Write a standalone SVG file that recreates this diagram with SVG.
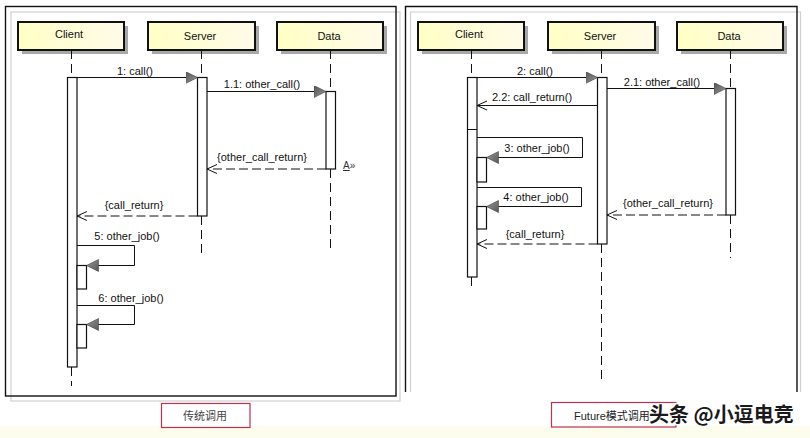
<svg xmlns="http://www.w3.org/2000/svg" width="810" height="438" viewBox="0 0 810 438">
<style>
  text { font-family: "Liberation Sans", Arial, sans-serif; font-size: 11px; fill: #111; }
  .cjk { font-family: "Liberation Sans", "Noto Sans CJK SC", sans-serif; }
  .frame { fill: none; stroke: #111; stroke-width: 1.4; }
  .frameShadow { fill: none; stroke: #d0d0d0; stroke-width: 1.2; }
  .head { fill: url(#headGrad); stroke: #111; stroke-width: 2; }
  .headShadow { fill: #a8a8a8; }
  .life { stroke: #111; stroke-width: 1; stroke-dasharray: 9 5; fill: none; }
  .act { fill: #fff; stroke: #111; stroke-width: 1.2; }
  .msg { fill: none; stroke: #111; stroke-width: 1; }
  .call { marker-end: url(#filled); }
  .ret { stroke-dasharray: 9 4; marker-end: url(#open); }
  .sret { marker-end: url(#open); }
  .lbl { fill: none; stroke: #c03050; stroke-width: 1.2; }
</style>
<defs>
  <linearGradient id="headGrad" x1="0" y1="0" x2="1" y2="0">
    <stop offset="0" stop-color="#ffffc4"/>
    <stop offset="1" stop-color="#fffbea"/>
  </linearGradient>
  <linearGradient id="arrowGrad" x1="0" y1="0" x2="1" y2="1">
    <stop offset="0" stop-color="#555"/>
    <stop offset="1" stop-color="#9a9a9a"/>
  </linearGradient>
  <marker id="filled" markerWidth="13" markerHeight="13" refX="12" refY="6" orient="auto" markerUnits="userSpaceOnUse">
    <path d="M0,0 L12,6 L0,12 z" fill="url(#arrowGrad)" stroke="#444" stroke-width="0.6"/>
  </marker>
  <marker id="open" markerWidth="12" markerHeight="12" refX="10" refY="5.5" orient="auto" markerUnits="userSpaceOnUse">
    <path d="M0,1 L10,5.5 L0,10" fill="none" stroke="#111" stroke-width="1"/>
  </marker>
</defs>

<rect x="0" y="0" width="810" height="438" fill="#fff"/>
<rect x="0" y="426" width="810" height="12" fill="#fdfdee"/>

<!-- frames -->
<g id="frames">
  <rect class="frameShadow" x="11" y="12" width="389" height="389"/>
  <rect class="frame" x="5.5" y="6.5" width="390.5" height="389.5"/>
  <path class="frameShadow" d="M410.5,392 V12 H800.5 V392"/>
  <path class="frame" d="M405.5,392 V6.5 H797 V392"/>
</g>

<!-- left diagram nodes -->
<g id="L-client">
  <rect class="headShadow" x="22" y="26" width="106" height="28"/>
  <rect class="head" x="18" y="22" width="106" height="28"/>
  <text x="69" y="38" text-anchor="middle">Client</text>
  <line class="life" x1="71.5" y1="50" x2="71.5" y2="77"/>
  <line class="life" x1="71.5" y1="367" x2="71.5" y2="386"/>
  <rect class="act" x="67.5" y="77.5" width="9.5" height="289.5"/>
  <rect class="act" x="77" y="265.5" width="9.5" height="23.5"/>
  <rect class="act" x="77" y="324.5" width="9.5" height="23.5"/>
</g>
<g id="L-server">
  <rect class="headShadow" x="152" y="26" width="107" height="28"/>
  <rect class="head" x="148" y="22" width="107" height="28"/>
  <text x="200" y="40" text-anchor="middle">Server</text>
  <line class="life" x1="201.5" y1="50" x2="201.5" y2="77"/>
  <line class="life" x1="201.5" y1="216" x2="201.5" y2="253"/>
  <rect class="act" x="197.5" y="77.5" width="9.5" height="138.5"/>
</g>
<g id="L-data">
  <rect class="headShadow" x="281" y="26" width="106" height="28"/>
  <rect class="head" x="277" y="22" width="106" height="28"/>
  <text x="329" y="40" text-anchor="middle">Data</text>
  <line class="life" x1="330.5" y1="50" x2="330.5" y2="91"/>
  <line class="life" x1="330.5" y1="169" x2="330.5" y2="253"/>
  <rect class="act" x="326" y="91.5" width="9.5" height="77.5"/>
</g>

<!-- right diagram nodes -->
<g id="R-client">
  <rect class="headShadow" x="422" y="26" width="106" height="28"/>
  <rect class="head" x="418" y="22" width="106" height="28"/>
  <text x="469" y="38" text-anchor="middle">Client</text>
  <line class="life" x1="471.5" y1="50" x2="471.5" y2="77"/>
  <line class="life" x1="471.5" y1="277" x2="471.5" y2="288"/>
  <rect class="act" x="467.5" y="77.5" width="9.5" height="199.5"/>
  <line class="msg" x1="467.5" y1="129.5" x2="477" y2="129.5"/>
  <rect class="act" x="477" y="157.5" width="9.5" height="24.5"/>
  <rect class="act" x="477" y="206.5" width="9.5" height="22.5"/>
</g>
<g id="R-server">
  <rect class="headShadow" x="552" y="26" width="107" height="28"/>
  <rect class="head" x="548" y="22" width="107" height="28"/>
  <text x="600" y="40" text-anchor="middle">Server</text>
  <line class="life" x1="601.5" y1="50" x2="601.5" y2="77"/>
  <line class="life" x1="601.5" y1="244" x2="601.5" y2="383"/>
  <rect class="act" x="597.5" y="77.5" width="9.5" height="166.5"/>
</g>
<g id="R-data">
  <rect class="headShadow" x="681" y="26" width="106" height="28"/>
  <rect class="head" x="677" y="22" width="106" height="28"/>
  <text x="729" y="40" text-anchor="middle">Data</text>
  <line class="life" x1="730.5" y1="50" x2="730.5" y2="88"/>
  <line class="life" x1="730.5" y1="215" x2="730.5" y2="258"/>
  <rect class="act" x="726" y="88.5" width="9.5" height="126.5"/>
</g>

<!-- connectors -->
<g id="connectors">
  <!-- left -->
  <line class="msg call" x1="77" y1="77.5" x2="197.5" y2="77.5"/>
  <text x="135" y="75" text-anchor="middle">1: call()</text>
  <line class="msg call" x1="207" y1="91.5" x2="326" y2="91.5"/>
  <text x="262" y="88" text-anchor="middle">1.1: other_call()</text>
  <line class="msg ret" x1="326" y1="169" x2="207" y2="169"/>
  <text x="262" y="161" text-anchor="middle">{other_call_return}</text>
  <text x="343" y="169" style="font-size:10px; fill:#333"><tspan text-decoration="underline">A</tspan>»</text>
  <line class="msg ret" x1="197.5" y1="216" x2="77" y2="216"/>
  <text x="134" y="209" text-anchor="middle">{call_return}</text>
  <polyline class="msg call" points="77,245.5 134.5,245.5 134.5,265.5 86.5,265.5"/>
  <text x="127" y="240" text-anchor="middle">5: other_job()</text>
  <polyline class="msg call" points="77,305.5 134.5,305.5 134.5,324.5 86.5,324.5"/>
  <text x="131" y="302" text-anchor="middle">6: other_job()</text>

  <!-- right -->
  <line class="msg call" x1="477" y1="77.5" x2="597.5" y2="77.5"/>
  <text x="535" y="75" text-anchor="middle">2: call()</text>
  <line class="msg sret" x1="597.5" y1="105.5" x2="477" y2="105.5"/>
  <text x="532" y="101" text-anchor="middle">2.2: call_return()</text>
  <line class="msg call" x1="607" y1="88.5" x2="726" y2="88.5"/>
  <text x="662" y="86" text-anchor="middle">2.1: other_call()</text>
  <polyline class="msg call" points="477,137.5 582.5,137.5 582.5,157.5 486.5,157.5"/>
  <text x="537" y="152" text-anchor="middle">3: other_job()</text>
  <polyline class="msg call" points="477,187.5 581.5,187.5 581.5,206.5 486.5,206.5"/>
  <text x="536" y="201" text-anchor="middle">4: other_job()</text>
  <line class="msg ret" x1="726" y1="215" x2="607" y2="215"/>
  <text x="668" y="207" text-anchor="middle">{other_call_return}</text>
  <line class="msg ret" x1="597.5" y1="244" x2="477" y2="244"/>
  <text x="535" y="238" text-anchor="middle">{call_return}</text>
</g>

<!-- captions -->
<g id="caption-left">
  <rect class="lbl" x="161.5" y="403.5" width="88.5" height="24"/>
  <text class="cjk" x="205" y="420" text-anchor="middle" style="fill:#444">传统调用</text>
</g>
<g id="caption-right">
  <rect class="lbl" x="551.5" y="402.5" width="124.5" height="24.5"/>
  <text class="cjk" x="574" y="420" style="fill:#222">Future模式调用</text>
</g>
<g id="watermark">
  <text x="649" y="422" style="font-family:'Noto Sans CJK SC', sans-serif; font-size:20px; font-weight:bold; fill:#1a1a1a; stroke:#fff; stroke-width:2.5; paint-order:stroke; stroke-linejoin:round">头条 @小逗电竞</text>
</g>
</svg>
